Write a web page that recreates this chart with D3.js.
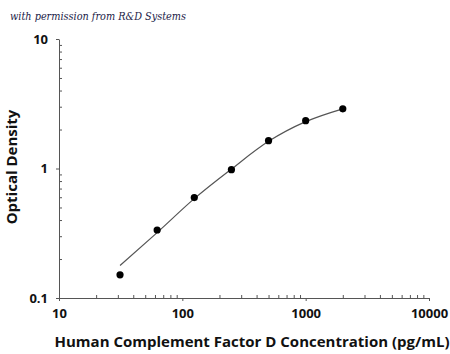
<!DOCTYPE html>
<meta charset="utf-8">
<title>Factor D standard curve</title>
<style>
body { margin: 0; background: #fff; }
.tick text { font: bold 13px "Open Sans", sans-serif; fill: #111; }
.axis path, .axis line { stroke: #555; }
.title { font: bold 15px "Open Sans", sans-serif; fill: #111; }
.note { font: italic 11px "DejaVu Serif", serif; fill: #1c1c48; }
.fit { fill: none; stroke: #555; stroke-width: 1.2px; }
</style>
<svg width="450" height="354"></svg>
<script src="https://d3js.org/d3.v7.min.js"></script>
<script>

// standard concentrations (pg/mL) and measured OD
var conc = [31.25, 62.5, 125, 250, 500, 1000, 2000];
var od = [0.151, 0.335, 0.596, 0.98, 1.64, 2.34, 2.89];
// fitted curve
var fitConc = [31.25, 62.5, 125, 250, 500, 1000, 2000];
var fitOd = [0.178, 0.32, 0.585, 0.99, 1.62, 2.3, 2.89];

var xTicks = [10, 100, 1000, 10000];
var yTicks = [0.1, 1, 10];

var svg = d3.select("svg");

var x = d3.scaleLog().domain([10, 10000]).range([59, 429]);
var y = d3.scaleLog().domain([0.1, 10]).range([298, 39]);

// minor ticks (inside)
var xMinor = [], yMinor = [];
[10, 100, 1000].forEach(function(d) {
  for (var k = 2; k < 10; k++) xMinor.push(d * k);
});
[0.1, 1].forEach(function(d) {
  for (var k = 2; k < 10; k++) yMinor.push(d * k);
});

svg.append("g").attr("class", "axis")
  .attr("transform", "translate(0,298)")
  .call(d3.axisTop(x).tickValues(xMinor).tickSize(3).tickFormat(""))
  .select(".domain").remove();

svg.append("g").attr("class", "axis")
  .attr("transform", "translate(59,0)")
  .call(d3.axisRight(y).tickValues(yMinor).tickSize(3).tickFormat(""))
  .select(".domain").remove();

var xAxis = svg.append("g").attr("class", "axis")
  .attr("transform", "translate(0,298)")
  .call(d3.axisBottom(x).tickValues(xTicks).tickSize(3).tickSizeOuter(0)
    .tickPadding(8).tickFormat(d3.format("d")));

var yAxis = svg.append("g").attr("class", "axis")
  .attr("transform", "translate(59,0)")
  .call(d3.axisLeft(y).tickValues(yTicks).tickSize(3).tickSizeOuter(0)
    .tickPadding(8).tickFormat(function(d) { return d < 1 ? "0.1" : d3.format("d")(d); }));

svg.append("path")
  .datum(d3.zip(fitConc, fitOd))
  .attr("class", "fit")
  .attr("d", d3.line()
    .x(function(d) { return x(d[0]); })
    .y(function(d) { return y(d[1]); })
    .curve(d3.curveMonotoneX));

svg.selectAll(".dot")
  .data(d3.zip(conc, od))
  .enter().append("circle")
    .attr("class", "dot")
    .attr("cx", function(d) { return x(d[0]); })
    .attr("cy", function(d) { return y(d[1]); })
    .attr("r", 3.6)
    .attr("fill", "#000");

svg.append("text")
  .attr("class", "title")
  .attr("x", 252).attr("y", 347)
  .attr("text-anchor", "middle")
  .text("Human Complement Factor D Concentration (pg/mL)");

svg.append("text")
  .attr("class", "title")
  .attr("transform", "translate(17,167) rotate(-90)")
  .attr("text-anchor", "middle")
  .text("Optical Density");

svg.append("text")
  .attr("class", "note")
  .attr("x", 10).attr("y", 20)
  .attr("textLength", 176)
  .attr("lengthAdjust", "spacingAndGlyphs")
  .text("with permission from R&D Systems");

</script>
